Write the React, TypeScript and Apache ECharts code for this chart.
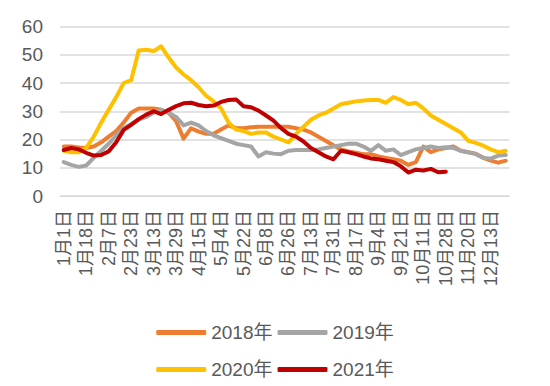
import React, { useEffect, useRef } from "react";
import * as echarts from "echarts";

const categories: string[] = [
  "1月1日", "1月7日", "1月12日", "1月18日", "1月25日", "2月1日", "2月7日", "2月12日", "2月18日", "2月23日",
  "3月1日", "3月7日", "3月13日", "3月18日", "3月24日", "3月29日", "4月4日", "4月10日", "4月15日", "4月22日",
  "4月28日", "5月4日", "5月10日", "5月16日", "5月22日", "5月28日", "6月2日", "6月8日", "6月14日", "6月20日",
  "6月26日", "7月2日", "7月7日", "7月13日", "7月19日", "7月25日", "7月31日", "8月5日", "8月11日", "8月17日",
  "8月23日", "8月29日", "9月4日", "9月10日", "9月15日", "9月21日", "9月28日", "10月4日", "10月11日", "10月17日",
  "10月22日", "10月28日", "11月5日", "11月12日", "11月20日", "11月27日", "12月5日", "12月13日", "12月20日", "12月27日",
];

const s2018: number[] = [
  17.5, 17.5, 17.2, 17, 17.5, 19, 21, 23, 26, 29.5,
  31, 31, 31, 30.5, 29.5, 26.5, 20.3, 24, 22.8, 22,
  22, 23.5, 25, 24, 24, 24.3, 24.5, 24.5, 24.5, 24.5,
  24.5, 24, 23.5, 22.5, 21, 19.5, 18, 16.5, 15.8, 15.3,
  14.8, 14.8, 14, 13.5, 13, 12.5, 11, 12, 17.5, 15.5,
  16.5, 17, 17.5, 16, 15.5, 15, 13.5, 12.5, 11.8, 12.5,
];

const s2019: number[] = [
  12, 11, 10.3, 10.8, 13.5, 16, 18.5, 21.5, 24, 25.5,
  27, 28, 29.5, 30.5, 29.5, 28, 25, 26, 25, 23,
  21.5, 20.5, 19.5, 18.5, 18, 17.5, 14, 15.5, 15, 14.8,
  16, 16.3, 16.3, 16.3, 16.5, 17, 17.5, 18, 18.5, 18.5,
  17.5, 16, 18, 16, 16.5, 14.5, 15.5, 16.5, 17, 17.5,
  17, 17.3, 17, 16, 15.5, 14.8, 13.5, 13.2, 14.3, 14.5,
];

const s2020: number[] = [
  16, 15.5, 15.5, 17, 21, 26, 30.5, 35, 40, 41,
  51.5, 51.8, 51.3, 53, 49, 45.5, 43, 41, 38.5, 35.5,
  33.5, 31, 26, 23.5, 23, 22, 22.5, 22.5, 21, 20,
  19, 22, 24.5, 27, 28.5, 29.5, 31, 32.5, 33, 33.5,
  33.8, 34, 34, 33, 35, 34, 32.5, 33, 31, 28.5,
  27, 25.5, 24, 22.5, 19.5, 18.8, 17.8, 16.5, 15.5, 16,
];

const s2021: number[] = [
  16.3, 17, 16.5, 15.3, 14.3, 14.5, 15.8, 19, 23.4, 25.2,
  27.2, 28.8, 30, 29, 30.5, 31.8, 32.8, 33, 32.2, 31.8,
  32, 33.3, 34, 34.2, 31.8, 31.4, 30.2, 28.5, 26.7, 24,
  22, 21, 19.3, 17, 15.5, 14, 13, 16, 15.5, 14.8,
  14, 13.3, 13, 12.5, 12, 10.5, 8.3, 9.3, 9, 9.6,
  8.4, 8.6,
];

const seriesNames: string[] = ["2018年", "2019年", "2020年", "2021年"];
const seriesColors: string[] = ["#ED7D31", "#A5A5A5", "#FFC000", "#C00000"];

const FONT = "'Liberation Sans', 'Noto Sans CJK SC', sans-serif";
const TEXT_COLOR = "#595959";

export default function App() {
  const ref = useRef<HTMLDivElement>(null);

  useEffect(() => {
    if (!ref.current) return;
    const chart = echarts.init(ref.current, undefined, { renderer: "svg" });
    const dataSets = [s2018, s2019, s2020, s2021];
    const legendCommon = {
      left: "center",
      orient: "horizontal" as const,
      itemWidth: 50,
      itemHeight: 5,
      itemGap: 5,
      icon: "roundRect",
      textStyle: { fontSize: 19, color: TEXT_COLOR, fontFamily: FONT },
    };
    chart.setOption({
      animation: false,
      textStyle: { fontFamily: FONT },
      grid: { left: 60, right: 40.5, top: 26.5, bottom: 190, containLabel: false },
      legend: [
        { ...legendCommon, top: 318, data: [seriesNames[0], seriesNames[1]] },
        { ...legendCommon, top: 355, data: [seriesNames[2], seriesNames[3]] },
      ],
      xAxis: {
        type: "category",
        data: categories,
        boundaryGap: true,
        axisLine: { show: true, lineStyle: { color: "#D9D9D9", width: 1 } },
        axisTick: { show: false },
        axisLabel: {
          interval: 2,
          rotate: 90,
          margin: 14,
          fontSize: 18,
          color: TEXT_COLOR,
          fontFamily: FONT,
        },
        splitLine: { show: false },
      },
      yAxis: {
        type: "value",
        min: 0,
        max: 60,
        interval: 10,
        axisLine: { show: false },
        axisTick: { show: false },
        axisLabel: { fontSize: 19, color: TEXT_COLOR, margin: 17, fontFamily: FONT },
        splitLine: { show: true, lineStyle: { color: "#D9D9D9", width: 1.5 } },
      },
      series: dataSets.map((d, i) => ({
        name: seriesNames[i],
        type: "line",
        data: d,
        showSymbol: false,
        symbol: "none",
        color: seriesColors[i],
        lineStyle: { width: 4, color: seriesColors[i], cap: "round", join: "round" },
        z: 2 + i,
      })),
    });
    return () => chart.dispose();
  }, []);

  return (
    <div
      ref={ref}
      style={{ position: "fixed", left: 0, top: 0, width: 550, height: 386, background: "#fff" }}
    />
  );
}
